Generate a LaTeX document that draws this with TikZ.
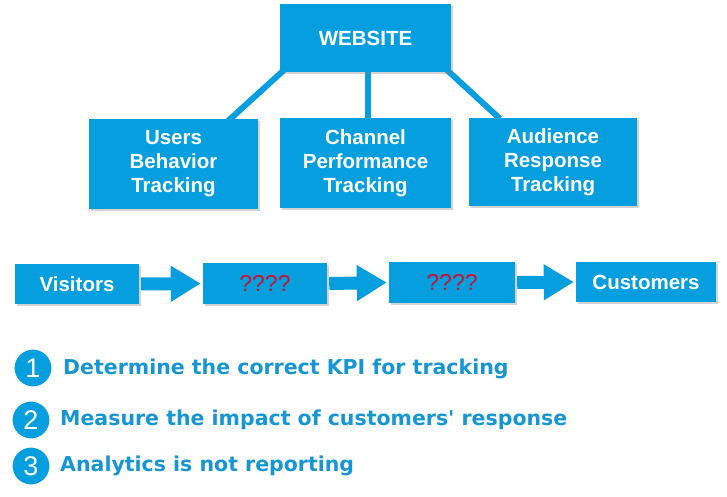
\documentclass[tikz,border=0pt]{standalone}
\usepackage{fontspec}
\setmainfont{Liberation Sans}
\newfontfamily\listfont{DejaVu Sans}
\usetikzlibrary{arrows.meta,shadows,backgrounds}
\definecolor{boxblue}{RGB}{5,158,222}
\definecolor{txtblue}{RGB}{22,150,210}
\definecolor{qred}{RGB}{200,20,50}
\tikzset{
  bluebox/.style={fill=boxblue, draw=none, text=white, font=\bfseries\fontsize{20.5}{24}\selectfont, align=center, inner sep=0pt,
    drop shadow={shadow xshift=2pt, shadow yshift=-2pt, opacity=0.35, fill=gray}},
  qbox/.style={bluebox, text=qred, font=\fontsize{23}{24}\selectfont},
  link/.style={draw=boxblue, line width=6pt},
  flow/.style={draw=boxblue, line width=13pt, -{Triangle[width=34pt,length=30pt]}},
  numcirc/.style={circle, fill=boxblue, draw=white, line width=1pt, minimum size=38pt, inner sep=0pt, text=white, font=\fontsize{27}{27}\selectfont},
  listtext/.style={anchor=west, text=txtblue, font=\listfont\bfseries\fontsize{20.5}{24}\selectfont, inner sep=0pt}
}
\begin{document}
\begin{tikzpicture}[x=1pt,y=-1pt]
\useasboundingbox (0,0) rectangle (727,497);
\node[bluebox, minimum width=171pt, minimum height=68pt] (web) at (365.5,38) {WEBSITE};
\node[bluebox, minimum width=169pt, minimum height=90pt] (ubt) at (173.5,164) {Users\\Behavior\\Tracking};
\node[bluebox, minimum width=171pt, minimum height=90pt] (cpt) at (365.5,163) {Channel\\Performance\\Tracking};
\node[bluebox, minimum width=168pt, minimum height=88pt] (art) at (553,162) {Audience\\Response\\Tracking};
\begin{scope}[on background layer]
\draw[link] ([xshift=4pt,yshift=2pt]web.south west) -- ([xshift=-30pt,yshift=-2pt]ubt.north east);
\draw[link] ([xshift=2.5pt]web.south) -- ([xshift=2.5pt]web.south |- cpt.north);
\draw[link] ([xshift=-4pt,yshift=2pt]web.south east) -- ([xshift=-53pt,yshift=-1pt]art.north);
\end{scope}
% flow row
\node[bluebox, minimum width=124pt, minimum height=40pt] (vis) at (77,284) {Visitors};
\node[qbox, minimum width=124pt, minimum height=41pt] (q1) at (265,283.5) {????};
\node[qbox, minimum width=126pt, minimum height=41pt] (q2) at (452,282.5) {????};
\node[bluebox, minimum width=140pt, minimum height=40pt] (cus) at (646,282) {Customers};
\draw[flow] ([xshift=2pt]vis.east) -- ([xshift=-2pt]q1.west);
\draw[flow] ([xshift=2pt]q1.east) -- ([xshift=-2pt]q2.west);
\draw[flow] ([xshift=2pt]q2.east) -- ([xshift=-2pt]cus.west);
% list
\node[numcirc] (n1) at (33,368) {1};
\node[numcirc] (n2) at (31,420) {2};
\node[numcirc] (n3) at (31,466) {3};
\node[listtext] (t1) at (63,369) {Determine the correct KPI for tracking};
\node[listtext] (t2) at (60,420) {Measure the impact of customers' response};
\node[listtext] (t3) at (60,466) {Analytics is not reporting};
\end{tikzpicture}
\end{document}
